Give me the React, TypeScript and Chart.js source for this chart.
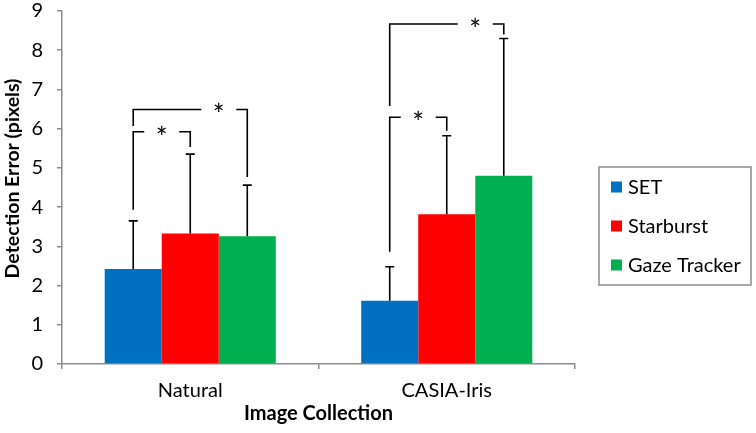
import React, { useEffect, useRef } from 'react';
import { Chart, registerables } from 'chart.js';

Chart.register(...registerables);

const categories = ['Natural', 'CASIA-Iris'];
const seriesLabels = ['SET', 'Starburst', 'Gaze Tracker'];
const setValues = [2.42, 1.61];
const starburstValues = [3.33, 3.82];
const gazeTrackerValues = [3.26, 4.8];
const setErrors = [1.23, 0.87];
const starburstErrors = [2.02, 2.0];
const gazeTrackerErrors = [1.3, 3.5];
const yMin = 0;
const yMax = 9;
const yStep = 1;
const xTitle = 'Image Collection';
const yTitle = 'Detection Error (pixels)';

// significance brackets: category, from series, to series, left-leg bottom, top, right-leg bottom
const bracketCategory = [0, 0, 1, 1];
const bracketFrom = [0, 0, 0, 0];
const bracketTo = [1, 2, 2, 1];
const bracketLeftBottom = [3.93, 6.07, 6.58, 2.86];
const bracketTop = [5.92, 6.49, 8.67, 6.29];
const bracketRightBottom = [5.53, 4.77, 8.4, 5.95];
const bracketMark = ['*', '*', '*', '*'];

const seriesValues = [setValues, starburstValues, gazeTrackerValues];
const seriesErrors = [setErrors, starburstErrors, gazeTrackerErrors];
const seriesColors = ['#0070C0', '#FF0000', '#00B050'];

const FONT = "Lato, 'Open Sans', 'DejaVu Sans', sans-serif";
const AXIS = '#8c8c8c';

const overlayPlugin = {
  id: 'overlay',
  afterDatasetsDraw(chart: any) {
    const ctx = chart.ctx;
    const y = chart.scales.y;
    ctx.save();
    ctx.strokeStyle = '#000';
    ctx.lineWidth = 1.6;
    seriesErrors.forEach((errs, i) => {
      const meta = chart.getDatasetMeta(i);
      meta.data.forEach((bar: any, j: number) => {
        const v = seriesValues[i][j];
        const x = bar.x;
        const y0 = y.getPixelForValue(v);
        const y1 = y.getPixelForValue(v + errs[j]);
        ctx.beginPath();
        ctx.moveTo(x, y0);
        ctx.lineTo(x, y1);
        ctx.moveTo(x - 4.5, y1);
        ctx.lineTo(x + 4.5, y1);
        ctx.stroke();
      });
    });
    ctx.fillStyle = '#000';
    ctx.font = `28px ${FONT}`;
    ctx.textAlign = 'center';
    ctx.textBaseline = 'alphabetic';
    for (let k = 0; k < bracketCategory.length; k++) {
      const c = bracketCategory[k];
      const xa = chart.getDatasetMeta(bracketFrom[k]).data[c].x;
      const xb = chart.getDatasetMeta(bracketTo[k]).data[c].x;
      const xp = chart.getDatasetMeta(bracketTo[k] - 1).data[c].x;
      const xs = (xp + xb) / 2;
      const yl = y.getPixelForValue(bracketLeftBottom[k]);
      const yt = y.getPixelForValue(bracketTop[k]);
      const yr = y.getPixelForValue(bracketRightBottom[k]);
      const gap = 17.5;
      ctx.beginPath();
      ctx.moveTo(xa, yl);
      ctx.lineTo(xa, yt);
      ctx.lineTo(xs - gap, yt);
      ctx.moveTo(xs + gap, yt);
      ctx.lineTo(xb, yt);
      ctx.lineTo(xb, yr);
      ctx.stroke();
      ctx.fillText(bracketMark[k], xs, yt + 16);
    }
    ctx.restore();
  },
  afterDraw(chart: any) {
    const ctx = chart.ctx;
    const area = chart.chartArea;
    // y-axis title
    ctx.save();
    ctx.fillStyle = '#000';
    ctx.font = `bold 19.5px ${FONT}`;
    ctx.textAlign = 'center';
    ctx.textBaseline = 'middle';
    ctx.translate(13, (area.top + area.bottom) / 2 - 9);
    ctx.rotate(-Math.PI / 2);
    ctx.fillText(yTitle, 0, 0);
    ctx.restore();
    // legend
    const left = area.right + 24;
    const top = 167;
    const w = 152;
    const h = 118;
    ctx.save();
    ctx.strokeStyle = AXIS;
    ctx.lineWidth = 1.5;
    ctx.strokeRect(left, top, w, h);
    ctx.font = `20px ${FONT}`;
    ctx.textBaseline = 'middle';
    ctx.textAlign = 'left';
    seriesLabels.forEach((label, i) => {
      const cy = top + 20 + i * 39;
      ctx.fillStyle = seriesColors[i];
      ctx.fillRect(left + 12, cy - 5.5, 11, 11);
      ctx.fillStyle = '#000';
      ctx.fillText(label, left + 29, cy + 1);
    });
    ctx.restore();
  },
};

export default function App() {
  const ref = useRef<HTMLCanvasElement>(null);
  useEffect(() => {
    document.body.style.margin = '0';
    const chart = new Chart(ref.current as HTMLCanvasElement, {
      type: 'bar',
      data: {
        labels: categories,
        datasets: seriesLabels.map((label, i) => ({
          label,
          data: seriesValues[i],
          backgroundColor: seriesColors[i],
          borderWidth: 0,
          categoryPercentage: 0.667,
          barPercentage: 1,
        })),
      },
      options: {
        animation: false,
        responsive: false,
        layout: { padding: { top: 11, right: 181, left: 0, bottom: 0 } },
        plugins: { legend: { display: false }, tooltip: { enabled: false } },
        scales: {
          x: {
            afterFit: (s: any) => { s.height = 69; s.paddingLeft = 0; s.paddingRight = 0; },
            grid: { drawOnChartArea: false, drawTicks: true, tickLength: 5, color: AXIS, lineWidth: 1.5, offset: true },
            border: { color: AXIS, width: 1.5 },
            ticks: { color: '#000', font: { family: FONT, size: 20 }, padding: 10 },
            title: { display: true, text: xTitle, color: '#000', font: { family: FONT, size: 20, weight: 'bold' }, padding: { top: 0, bottom: 7 } },
          },
          y: {
            min: yMin,
            max: yMax,
            afterFit: (s: any) => { s.width = 62; s.paddingTop = 0; s.paddingBottom = 0; },
            grid: { drawOnChartArea: false, drawTicks: true, tickLength: 5, color: AXIS, lineWidth: 1.5 },
            border: { color: AXIS, width: 1.5 },
            ticks: { stepSize: yStep, color: '#000', font: { family: FONT, size: 20 }, padding: 14 },
            title: { display: false },
          },
        },
      },
      plugins: [overlayPlugin],
    });
    return () => chart.destroy();
  }, []);
  return (
    <div style={{ width: 756, height: 433 }}>
      <canvas ref={ref} width={756} height={433} />
    </div>
  );
}
